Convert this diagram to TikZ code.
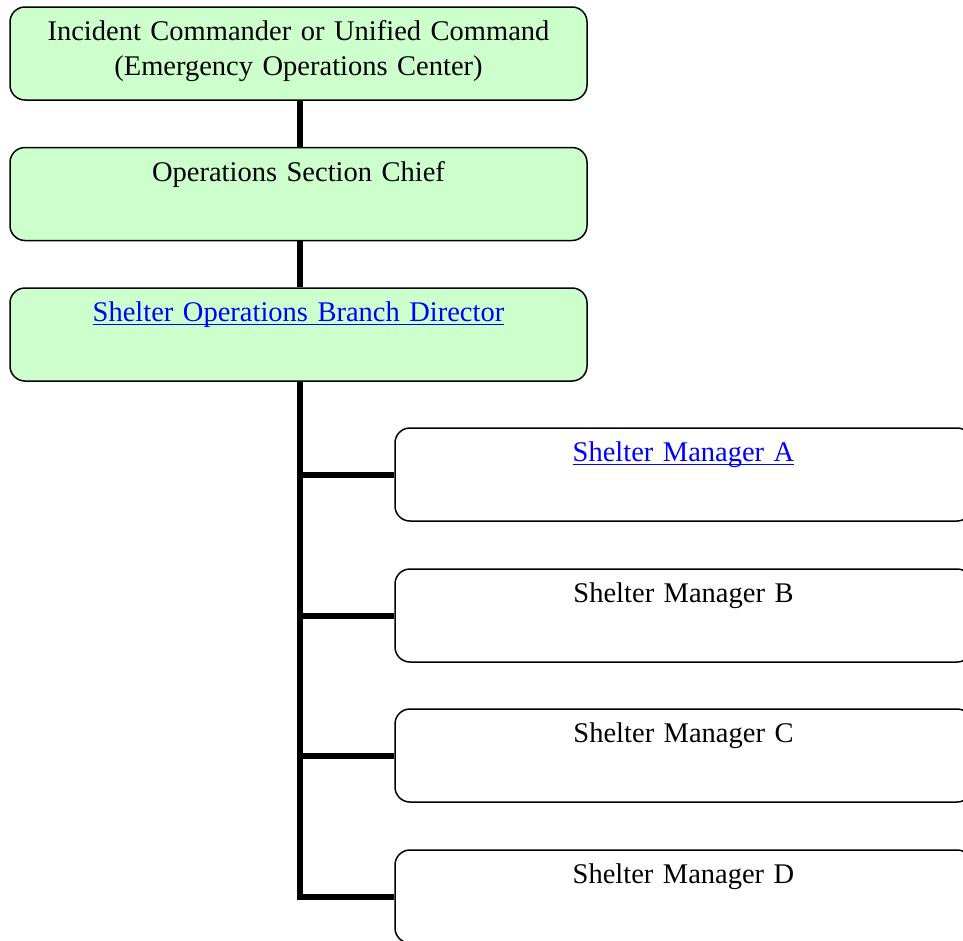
\documentclass[tikz,border=0pt]{standalone}
\usepackage{fontspec}
\setmainfont{Liberation Serif}
\definecolor{boxgreen}{HTML}{CCFFCC}
\definecolor{linkblue}{HTML}{0000FF}
% hyperlink look: blue text with a thin rule just under the baseline
\newsavebox{\linkbox}
\newcommand{\weblink}[1]{{\color{linkblue}\sbox{\linkbox}{\color{linkblue}#1}%
  \rlap{\rule[-3.5pt]{\wd\linkbox}{1.4pt}}\usebox{\linkbox}}}
% second line of a box, plus a little room below so the text sits high
\newcommand{\tailline}[1]{\\#1\strut\par\vspace{7pt}}
\begin{document}
\begin{tikzpicture}[x=1pt,y=-1pt,
  orgbox/.style={draw=black, line width=1.5pt, rounded corners=15pt,
    minimum width=577pt, minimum height=93pt, inner sep=0pt,
    text width=560pt, align=center,
    font=\fontsize{28.5}{35}\selectfont},
  staffbox/.style={orgbox, fill=boxgreen},
  unitbox/.style={orgbox, fill=white},
  tie/.style={draw=black, line width=6pt, miter limit=10}]
\useasboundingbox (0,0) rectangle (963,940);
\clip (0,0) rectangle (963,940);

% command chain
\node[staffbox] (ic)   at (298.5,53.5) {Incident Commander or Unified Command\tailline{(Emergency Operations Center)}};
\node[staffbox] (osc)  at (298.5,194)  {Operations Section Chief\tailline{}};
\node[staffbox] (sobd) at (298.5,334.5){\weblink{Shelter Operations Branch Director}\tailline{}};

% shelters
\node[unitbox] (sma) at (683.5,474.5) {\weblink{Shelter Manager A}\tailline{}};
\node[unitbox] (smb) at (683.5,615.5) {Shelter Manager B\tailline{}};
\node[unitbox] (smc) at (683.5,755.5) {Shelter Manager C\tailline{}};
\node[unitbox] (smd) at (683.5,896.5) {Shelter Manager D\tailline{}};

% connectors
\coordinate (trunk) at (300,0);
\draw[tie] (trunk |- ic.south) -- (trunk |- osc.north);
\draw[tie] (trunk |- osc.south) -- (trunk |- sobd.north);
\draw[tie] (trunk |- sobd.south) -- (trunk |- smd.west) -- (smd.west);
\draw[tie] (trunk |- sma.west) -- (sma.west);
\draw[tie] (trunk |- smb.west) -- (smb.west);
\draw[tie] (trunk |- smc.west) -- (smc.west);
\end{tikzpicture}
\end{document}
